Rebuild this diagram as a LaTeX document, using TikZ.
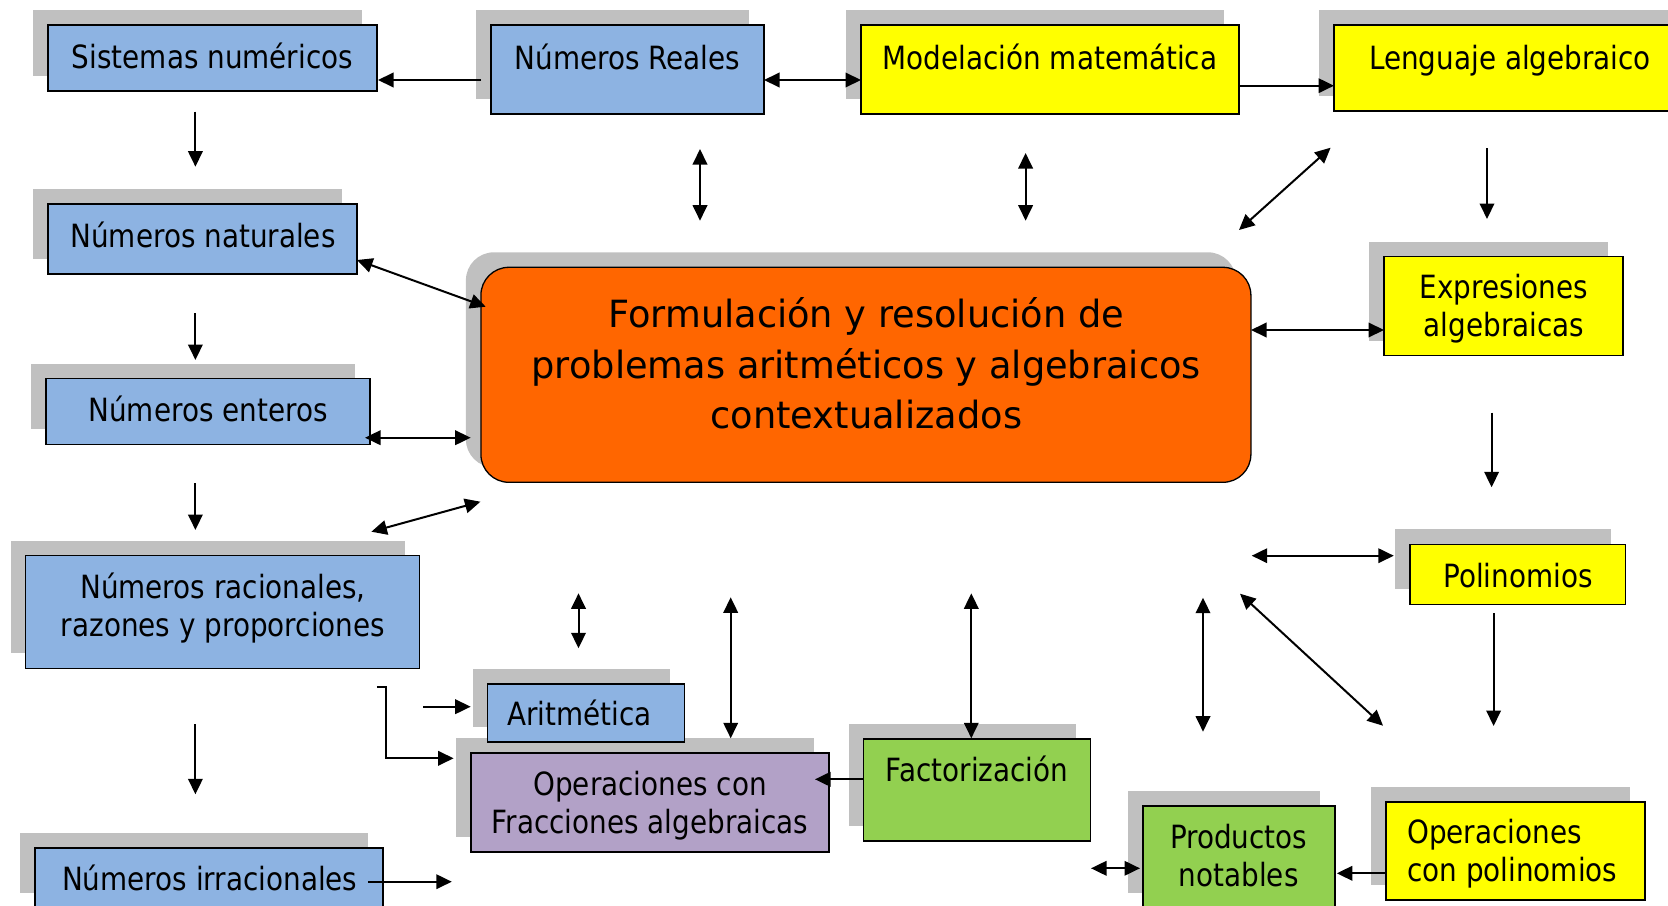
\documentclass[tikz,border=0pt]{standalone}
\usepackage{fontspec}
\setmainfont{DejaVu Sans}
\newfontfamily\boxfam[FakeStretch=0.87]{DejaVu Sans}
\newfontfamily\cenfam[FakeStretch=0.98]{DejaVu Sans}
\usetikzlibrary{arrows.meta,shadows}
\definecolor{blueF}{RGB}{141,179,226}
\definecolor{yellowF}{RGB}{255,255,0}
\definecolor{orangeF}{RGB}{255,102,0}
\definecolor{purpleF}{RGB}{178,161,199}
\definecolor{greenF}{RGB}{146,208,80}
\definecolor{shgray}{RGB}{192,192,192}
\begin{document}
\begin{tikzpicture}[x=1pt,y=-1pt,
  box/.style={draw=black, line width=1.3pt, rectangle, inner sep=0pt,
    drop shadow={shadow xshift=-15pt,shadow yshift=15pt,fill=shgray,opacity=1}},
  bluebox/.style={box, fill=blueF},
  yelbox/.style={box, fill=yellowF},
  purbox/.style={box, fill=purpleF},
  grebox/.style={box, fill=greenF},
  tb/.style={anchor=north, inner sep=0pt, align=center,
    font=\boxfam\fontsize{32pt}{38.4pt}\selectfont, yshift=34pt},
  tbl/.style={anchor=north west, inner sep=0pt, align=left,
    font=\boxfam\fontsize{32pt}{38.4pt}\selectfont, yshift=34pt},
  tc/.style={anchor=north, inner sep=0pt, align=center,
    font=\cenfam\fontsize{37.5pt}{50.5pt}\selectfont, yshift=45pt},
  arr/.style={line width=2pt, -{Triangle[length=15.5pt,width=14.5pt]}},
  darr/.style={line width=2pt, {Triangle[length=15.5pt,width=14.5pt]}-{Triangle[length=15.5pt,width=14.5pt]}}
]
\path[use as bounding box] (0,0) rectangle (1668,905);
\clip (0,0) rectangle (1668,905);

% boxes
\node[bluebox, minimum width=329pt, minimum height=66pt] (sis) at (212.5,58) {};
\node[bluebox, minimum width=273pt, minimum height=89pt] (reales) at (627.5,69.5) {};
\node[yelbox, minimum width=378pt, minimum height=89pt] (model) at (1050,69.5) {};
\node[yelbox, minimum width=352pt, minimum height=86pt] (leng) at (1510,68) {};
\node[bluebox, minimum width=309pt, minimum height=70pt] (nat) at (202.5,239) {};
\node[bluebox, minimum width=324pt, minimum height=65.5pt] (ent) at (208,411.5) {};
\node[bluebox, minimum width=394pt, minimum height=112.6pt] (rac) at (222.6,612) {};
\node[bluebox, minimum width=348pt, minimum height=60pt] (irr) at (209,878) {};
\node[purbox, minimum width=358pt, minimum height=99pt] (opfrac) at (650,802.5) {};
\node[bluebox, minimum width=197pt, minimum height=58pt] (arit) at (586.3,713) {};
\node[grebox, minimum width=227pt, minimum height=102pt] (fact) at (977,790) {};
\node[grebox, minimum width=192pt, minimum height=102pt] (prod) at (1239,857) {};
\node[yelbox, minimum width=259pt, minimum height=98pt] (oppol) at (1515.5,851) {};
\node[yelbox, minimum width=215.6pt, minimum height=60pt] (poli) at (1517.8,574.3) {};
\node[yelbox, minimum width=239pt, minimum height=99pt] (expr) at (1503.5,306.2) {};
\node[box, fill=orangeF, rounded corners=28pt, minimum width=770pt, minimum height=215pt] (cen) at (865.9,374.8) {};

% texts
\node[tb] (sisT) at (212.5,68.3) {\rule{0pt}{34pt}Sistemas numéricos};
\node[tb] (realesT) at (627.5,69.5) {\rule{0pt}{34pt}Números Reales};
\node[tb] (modelT) at (1050,69.5) {\rule{0pt}{34pt}Modelación matemática};
\node[tb] (lengT) at (1510,69) {\rule{0pt}{34pt}Lenguaje algebraico};
\node[tb] (natT) at (203,247.3) {\rule{0pt}{34pt}Números naturales};
\node[tb] (entT) at (208,421.7) {\rule{0pt}{34pt}Números enteros};
\node[tb] (racT) at (223,598.3) {\rule{0pt}{34pt}Números racionales,\\razones y proporciones};
\node[tb] (irrT) at (209.8,890) {\rule{0pt}{34pt}Números irracionales};
\node[tb] (aritT) at (579.6,725) {\rule{0pt}{34pt}Aritmética};
\node[tb] (opfracT) at (650,795) {\rule{0pt}{34pt}Operaciones con\\Fracciones algebraicas};
\node[tb] (factT) at (977,781.7) {\rule{0pt}{34pt}Factorización};
\node[tb] (prodT) at (1238.7,848.3) {\rule{0pt}{34pt}Productos\\notables};
\node[tbl] (oppolT) at (1407,843.3) {\rule{0pt}{34pt}Operaciones\\con polinomios};
\node[tb] (poliT) at (1518,587.3) {\rule{0pt}{34pt}Polinomios};
\node[tb] (exprT) at (1504,298.3) {\rule{0pt}{34pt}Expresiones\\algebraicas};
\node[tc] (cenT) at (866.3,327.3) {\rule{0pt}{45pt}Formulación y resolución de\\problemas aritméticos y algebraicos\\contextualizados};

% connector end points
\coordinate (a1s) at (481,80);    \coordinate (a1e) at (378,80);
\coordinate (a2s) at (764,80);    \coordinate (a2e) at (861,80);
\coordinate (a3s) at (1239,85.7); \coordinate (a3e) at (1334,85.7);
\coordinate (a4s) at (700,149);   \coordinate (a4e) at (700,220.7);
\coordinate (a5s) at (1025.6,153);\coordinate (a5e) at (1025.6,220.7);
\coordinate (a6s) at (1330.6,147.7); \coordinate (a6e) at (1239,230);
\coordinate (a7s) at (1487,148);  \coordinate (a7e) at (1487,219);
\coordinate (a8s) at (195.4,111.7); \coordinate (a8e) at (195.4,166.7);
\coordinate (a9s) at (357,260);   \coordinate (a9e) at (485.7,306.7);
\coordinate (a10s) at (195.4,313.3); \coordinate (a10e) at (195.4,360);
\coordinate (a11s) at (365,437.7); \coordinate (a11e) at (470.7,437.7);
\coordinate (a12s) at (195.4,483.3); \coordinate (a12e) at (195.4,530);
\coordinate (a13s) at (371.4,531.7); \coordinate (a13e) at (480.4,501.7);
\coordinate (a14s) at (1251,330); \coordinate (a14e) at (1384,330);
\coordinate (a15s) at (1491.6,412.7); \coordinate (a15e) at (1491.6,487.3);
\coordinate (a16s) at (1251.7,555.7); \coordinate (a16e) at (1393.8,555.7);
\coordinate (a17s) at (1203,597.7); \coordinate (a17e) at (1203,731.7);
\coordinate (a18s) at (1240,593.7); \coordinate (a18e) at (1383,725.7);
\coordinate (a19s) at (1493.6,613.3); \coordinate (a19e) at (1493.6,726);
\coordinate (a20s) at (1386,873.3); \coordinate (a20e) at (1336.8,873.3);
\coordinate (a21s) at (1091,868.3); \coordinate (a21e) at (1140,868.3);
\coordinate (a22s) at (863,779.3); \coordinate (a22e) at (815,779.3);
\coordinate (a23s) at (971.3,593.3); \coordinate (a23e) at (971.3,738.3);
\coordinate (a24s) at (730.7,597.3); \coordinate (a24e) at (730.7,738.3);
\coordinate (a25s) at (578.5,593.3); \coordinate (a25e) at (578.5,648.3);
\coordinate (a26s) at (423,706.7); \coordinate (a26e) at (470.7,706.7);
\coordinate (a27s) at (376.8,686.7); \coordinate (a27m) at (386.4,686.7); \coordinate (a27e) at (453.6,758.3);
\coordinate (a28s) at (367.9,881.7); \coordinate (a28e) at (451.8,881.7);
\coordinate (a29s) at (195.4,724); \coordinate (a29e) at (195.4,794.3);

% connectors
\draw[arr] (a1s) -- (a1e);
\draw[darr] (a2s) -- (a2e);
\draw[arr] (a3s) -- (a3e);
\draw[darr] (a4s) -- (a4e);
\draw[darr] (a5s) -- (a5e);
\draw[darr] (a6s) -- (a6e);
\draw[arr] (a7s) -- (a7e);
\draw[arr] (a8s) -- (a8e);
\draw[darr] (a9s) -- (a9e);
\draw[arr] (a10s) -- (a10e);
\draw[darr] (a11s) -- (a11e);
\draw[arr] (a12s) -- (a12e);
\draw[darr] (a13s) -- (a13e);
\draw[darr] (a14s) -- (a14e);
\draw[arr] (a15s) -- (a15e);
\draw[darr] (a16s) -- (a16e);
\draw[darr] (a17s) -- (a17e);
\draw[darr] (a18s) -- (a18e);
\draw[arr] (a19s) -- (a19e);
\draw[arr] (a20s) -- (a20e);
\draw[darr] (a21s) -- (a21e);
\draw[arr] (a22s) -- (a22e);
\draw[darr] (a23s) -- (a23e);
\draw[darr] (a24s) -- (a24e);
\draw[darr] (a25s) -- (a25e);
\draw[arr] (a26s) -- (a26e);
\draw[arr] (a27s) -- (a27m) |- (a27e);
\draw[arr] (a28s) -- (a28e);
\draw[arr] (a29s) -- (a29e);
\end{tikzpicture}
\end{document}
